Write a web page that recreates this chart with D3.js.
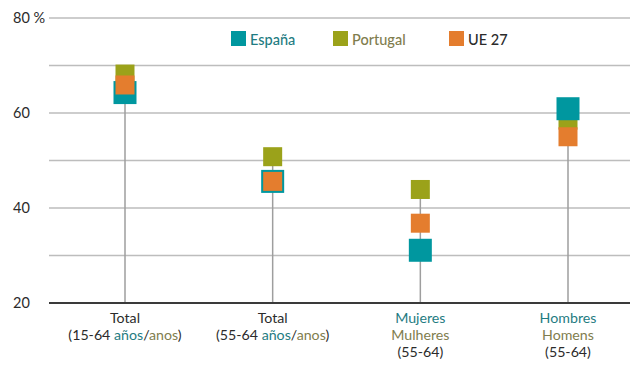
<!DOCTYPE html>
<html>
<head>
<meta charset="utf-8">
<script src="https://cdn.jsdelivr.net/npm/d3@7"></script>
<style>
  html, body { margin: 0; padding: 0; background: #fff; }
  svg { display: block; font-family: Lato, "Open Sans", sans-serif; }
</style>
</head>
<body>
<svg id="chart" width="630" height="365"></svg>
<script>
// Employment rates (%) by group
const categories = ["total1564", "total5564", "mujeres", "hombres"];
const espana   = [64.3, 45.6, 31.1, 60.9];
const portugal = [68.2, 50.8, 43.9, 58.5];
const ue27     = [65.9, 45.6, 36.8, 55.0];

const yTicks = [20, 40, 60, 80];
const gridValues = [30, 40, 50, 60, 70, 80];

// Axis labels, one array of lines per category; each line is a list of [text, style] pieces
const categoryLabels = [
  [[["Total", "dark"]], [["(15-64 ", "dark"], ["años", "es"], ["/", "dark"], ["anos", "pt"], [")", "dark"]]],
  [[["Total", "dark"]], [["(55-64 ", "dark"], ["años", "es"], ["/", "dark"], ["anos", "pt"], [")", "dark"]]],
  [[["Mujeres", "es"]], [["Mulheres", "pt"]], [["(55-64)", "dark"]]],
  [[["Hombres", "es"]], [["Homens", "pt"]], [["(55-64)", "dark"]]]
];

const seriesNames = ["España", "Portugal", "UE 27"];

const colors = { es: "#00979F", pt: "#9BA21A", eu: "#E47D2E" };
const textColors = { es: "#1F7C82", pt: "#7F7D4E", eu: "#2B2B2B", dark: "#2B2B2B" };

const svg = d3.select("#chart");

const y = d3.scaleLinear().domain([20, 80]).range([303, 18]);
const x = d3.scalePoint().domain(categories).range([125, 568]);

const gridLeft = 49, gridRight = 630;

// Horizontal grid lines
svg.append("g").selectAll("line")
  .data(gridValues)
  .join("line")
  .attr("x1", gridLeft).attr("x2", gridRight)
  .attr("y1", d => y(d)).attr("y2", d => y(d))
  .attr("stroke", "#BDBDBD")
  .attr("stroke-width", 1.5);

// Y tick labels
svg.append("g").selectAll("text")
  .data(yTicks)
  .join("text")
  .attr("x", 13)
  .attr("y", d => y(d))
  .attr("dy", "0.35em")
  .attr("font-size", 14.5)
  .attr("fill", "#2B2B2B")
  .text(d => d === 80 ? "80 %" : d);

// Stems from the baseline up to the highest marker
const maxVals = categories.map((c, i) => Math.max(espana[i], portugal[i], ue27[i]));
svg.append("g").selectAll("line")
  .data(categories)
  .join("line")
  .attr("x1", d => x(d)).attr("x2", d => x(d))
  .attr("y1", y(20))
  .attr("y2", (d, i) => y(maxVals[i]))
  .attr("stroke", "#9E9E9E")
  .attr("stroke-width", 1.5);

// Baseline
svg.append("line")
  .attr("x1", gridLeft).attr("x2", gridRight)
  .attr("y1", y(20)).attr("y2", y(20))
  .attr("stroke", "#3A3A3A")
  .attr("stroke-width", 2);

// Square markers: Portugal, then España, then UE 27 on top
const layers = [
  { values: portugal, color: colors.pt, size: 19 },
  { values: espana,   color: colors.es, size: 23 },
  { values: ue27,     color: colors.eu, size: 19 }
];
layers.forEach(layer => {
  svg.append("g").selectAll("rect")
    .data(categories)
    .join("rect")
    .attr("x", d => x(d) - layer.size / 2)
    .attr("y", (d, i) => y(layer.values[i]) - layer.size / 2)
    .attr("width", layer.size)
    .attr("height", layer.size)
    .attr("fill", layer.color);
});

// Category labels
const labelG = svg.append("g").attr("font-size", 14.2).attr("text-anchor", "middle");
categories.forEach((c, i) => {
  categoryLabels[i].forEach((line, li) => {
    const t = labelG.append("text")
      .attr("x", x(c))
      .attr("y", 323 + li * 17);
    line.forEach(([txt, style]) => {
      t.append("tspan").attr("fill", textColors[style]).text(txt);
    });
  });
});

// Legend
const legendX = [231, 333, 449];
const legendKeys = ["es", "pt", "eu"];
const legend = svg.append("g");
seriesNames.forEach((name, i) => {
  legend.append("rect")
    .attr("x", legendX[i]).attr("y", 31)
    .attr("width", 15).attr("height", 15)
    .attr("fill", colors[legendKeys[i]]);
  legend.append("text")
    .attr("x", legendX[i] + 19)
    .attr("y", 44.5)
    .attr("font-size", 14.5)
    .attr("font-weight", 500)
    .attr("fill", textColors[legendKeys[i]])
    .text(name);
});
</script>
</body>
</html>
